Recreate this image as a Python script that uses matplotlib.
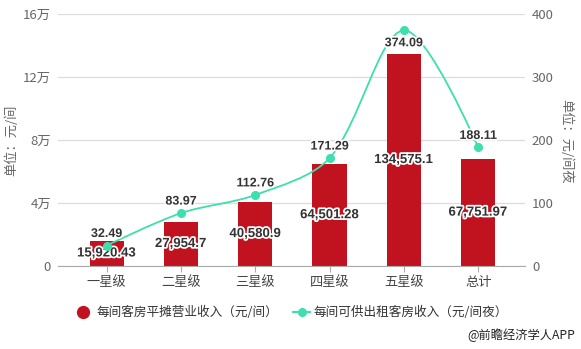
import matplotlib
matplotlib.use("Agg")
import matplotlib.pyplot as plt
import numpy as np
from matplotlib.path import Path
from matplotlib.patches import PathPatch
from matplotlib.lines import Line2D
import matplotlib.patheffects as pe

plt.rcParams['font.family'] = ['Noto Sans CJK SC', 'DejaVu Sans']

categories = ['一星级', '二星级', '三星级', '四星级', '五星级', '总计']
bar_values = [15920.43, 27954.7, 40580.9, 64501.28, 134575.1, 67751.97]
line_values = [32.49, 83.97, 112.76, 171.29, 374.09, 188.11]
bar_labels = ['15,920.43', '27,954.7', '40,580.9', '64,501.28', '134,575.1', '67,751.97']
line_labels = ['32.49', '83.97', '112.76', '171.29', '374.09', '188.11']
left_ticks = [0, 40000, 80000, 120000, 160000]
left_ticklabels = ['0', '4万', '8万', '12万', '16万']
right_ticks = [0, 100, 200, 300, 400]
series_names = ['每间客房平摊营业收入（元/间）', '每间可供出租客房收入（元/间夜）']

BAR_C = '#c1121f'
LINE_C = '#3ddfac'
TXT = '#666666'

W, H = 581, 349
fig = plt.figure(figsize=(W/100, H/100), dpi=100)
ax = fig.add_axes([58/W, (H-266)/H, (525-58)/W, (266-14)/H])
ax2 = ax.twinx()

x = np.arange(len(categories))
ax.bar(x, bar_values, width=0.46, color=BAR_C, zorder=2)
ax.set_xlim(-0.655, 5.63)
ax.set_ylim(0, 160000)
ax.set_yticks(left_ticks)
ax.set_yticklabels(left_ticklabels)
ax.set_xticks(x)
ax.set_xticklabels(categories)
ax.grid(axis='y', color='#dcdcdc', linewidth=0.9, zorder=0)
ax.set_axisbelow(True)
for s in ['top', 'right', 'left']:
    ax.spines[s].set_visible(False)
    ax2.spines[s].set_visible(False)
ax2.spines['bottom'].set_visible(False)
ax.spines['bottom'].set_color('#aaaaaa')
ax.tick_params(axis='x', colors='#aaaaaa', labelcolor='#444444', labelsize=9.5, length=4, pad=3)
ax.tick_params(axis='y', length=0, labelcolor=TXT, labelsize=9.5, pad=5)
ax2.set_ylim(0, 400)
ax2.set_yticks(right_ticks)
ax2.tick_params(axis='y', length=0, labelcolor=TXT, labelsize=9.5, pad=5)

outline = [pe.withStroke(linewidth=2.5, foreground='white')]
for xi, v, lab in zip(x, bar_values, bar_labels):
    ax.text(xi, v/2, lab, ha='center', va='center', fontsize=9.5, fontweight='bold',
            color='#333333', path_effects=outline, zorder=5, family='Liberation Sans')

# smooth curve (echarts-like bezier) in pixel-like units
sx = 74.3
sy = 252/400.0
px = x * sx
py = np.array(line_values) * sy
smooth = 0.32
n = len(px)
verts = [(x[0], line_values[0])]
codes = [Path.MOVETO]
cps_in = [None]*n
cps_out = [None]*n
for i in range(n):
    if i == 0 or i == n-1:
        cps_in[i] = (px[i], py[i]); cps_out[i] = (px[i], py[i]); continue
    vx = (px[i+1]-px[i-1])*smooth
    vy = (py[i+1]-py[i-1])*smooth
    d0 = np.hypot(px[i]-px[i-1], py[i]-py[i-1])
    d1 = np.hypot(px[i+1]-px[i], py[i+1]-py[i])
    r0 = d0/(d0+d1); r1 = d1/(d0+d1)
    cps_in[i] = (px[i]-vx*r0, py[i]-vy*r0)
    cps_out[i] = (px[i]+vx*r1, py[i]+vy*r1)
for i in range(n-1):
    c1 = cps_out[i]; c2 = cps_in[i+1]
    verts += [(c1[0]/sx, c1[1]/sy), (c2[0]/sx, c2[1]/sy), (x[i+1], line_values[i+1])]
    codes += [Path.CURVE4]*3
patch = PathPatch(Path(verts, codes), facecolor='none', edgecolor=LINE_C, linewidth=1.3, zorder=3)
ax2.add_patch(patch)
ax2.plot(x, line_values, 'o', color=LINE_C, markersize=5.5, zorder=4)
for i, (xi, v, lab) in enumerate(zip(x, line_values, line_labels)):
    below = (i == 4)
    ax2.annotate(lab, (xi, v), xytext=(0, -5 if below else 4), textcoords='offset points', ha='center',
                 va='top' if below else 'bottom',
                 fontsize=9, fontweight='bold', color='#333333', path_effects=outline,
                 zorder=5, family='Liberation Sans')

fig.text(11/W, 1-140/H, '单位：元/间', rotation=90, ha='center', va='center', color=TXT, fontsize=9.5)
fig.text(566/W, 1-141/H, '单位：元/间夜', rotation=270, ha='center', va='center', color=TXT, fontsize=9.5)

# legend (manual)
ly = 1-312/H
fig.add_artist(Line2D([83/W], [ly], marker='o', linestyle='none', color=BAR_C, markersize=8.5,
                      transform=fig.transFigure))
fig.text(97/W, ly, series_names[0], ha='left', va='center', fontsize=9.1, color='#333333')
fig.add_artist(Line2D([293/W, 310/W], [ly, ly], color=LINE_C, linewidth=1.5, transform=fig.transFigure))
fig.add_artist(Line2D([301.5/W], [ly], marker='o', linestyle='none', color=LINE_C, markersize=5.5,
                      transform=fig.transFigure))
fig.text(313/W, ly, series_names[1], ha='left', va='center', fontsize=9.1, color='#333333')
fig.text(575/W, 1-335/H, '@前瞻经济学人APP', ha='right', va='center', fontsize=8.8, color='#222222')

fig.savefig('out.png', dpi=100)
